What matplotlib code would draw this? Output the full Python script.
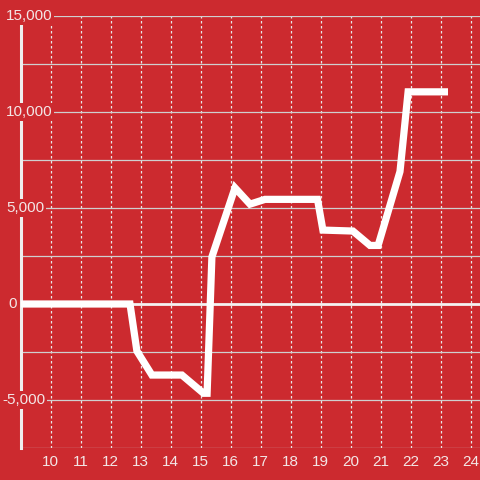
import matplotlib
matplotlib.use("Agg")
import matplotlib.pyplot as plt
import matplotlib.transforms as mtransforms

# values
hours = [9.0, 12.65, 12.88, 13.38, 14.38, 15.1, 15.22, 15.38, 16.15, 16.65, 17.15,
         18.9, 19.08, 20.08, 20.65, 20.92, 21.65, 21.92, 23.25]
balance = [0, 0, -2450, -3700, -3700, -4650, -4650, 2450, 6050, 5200, 5450,
           5450, 3850, 3800, 3050, 3050, 6900, 11050, 11050]

x_ticks = list(range(10, 25))
y_ticks = [-5000, 0, 5000, 10000, 15000]
y_grid = [-7500, -5000, -2500, 2500, 5000, 7500, 10000, 12500, 15000]

bg = "#cc2a2f"
txt = "#f3e6e6"

plt.rcParams["font.family"] = ["Liberation Sans", "DejaVu Sans"]

fig = plt.figure(figsize=(4.8, 4.8), dpi=100, facecolor=bg)
ax = fig.add_axes([20.5 / 480, 32 / 480, 459.5 / 480, 432 / 480])
ax.set_facecolor(bg)
ax.set_xlim(9, 9 + 459.5 / 30)
ax.set_ylim(-7500, 15000)

for s in ["top", "right", "bottom"]:
    ax.spines[s].set_visible(False)
ax.spines["left"].set_color("#efeeee")
ax.spines["left"].set_linewidth(2.2)
ax.spines["left"].set_zorder(1)
ax.tick_params(left=False, bottom=False, labelleft=False, labelbottom=False)

# grid
for v in x_ticks:
    ax.axvline(v, color="#e8e8e8", lw=0.9, ls=(0, (2, 2)), zorder=0)
for v in y_grid:
    ax.axhline(v, color="#cfcfcf", lw=0.9, zorder=0)
ax.axhline(0, color="#f4f2f2", lw=2.0, zorder=1)

ax.plot(hours, balance, color="white", lw=5.2, solid_joinstyle="miter",
        solid_capstyle="butt", zorder=3)

# x labels
for v in x_ticks:
    ax.text(v, -0.032, str(v), transform=mtransforms.blended_transform_factory(ax.transData, ax.transAxes),
            ha="center", va="center", fontsize=11, color=txt, clip_on=False)

# y labels drawn over the spine
tr = mtransforms.blended_transform_factory(fig.transFigure, ax.transData)
for v in y_ticks:
    lab = f"{v:,}"
    x0 = 6
    if v < 0:
        x0 = 2
    if v == 0:
        x0 = 8
    ax.text(x0 / 480, v, lab, transform=tr, ha="left", va="center", fontsize=11, color=txt,
            clip_on=False, zorder=4,
            bbox=dict(boxstyle="square,pad=0.1", fc=bg, ec="none"))

fig.savefig("out.png", dpi=100, facecolor=bg)
